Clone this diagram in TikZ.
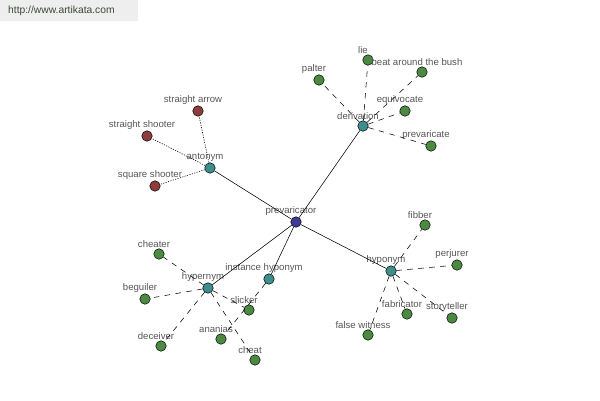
\documentclass[tikz,border=0pt]{standalone}
\usepackage{fontspec}
\setmainfont{Liberation Sans}
\definecolor{rootFill}{HTML}{3C3C96}
\definecolor{relFill}{HTML}{3E8E8C}
\definecolor{leafFill}{HTML}{4C8A42}
\definecolor{antoFill}{HTML}{8C3C3C}
\definecolor{labelGray}{HTML}{555555}
\definecolor{markGray}{HTML}{EEEEEE}
\definecolor{markText}{HTML}{3A4A36}

\begin{document}
\begin{tikzpicture}
[x=1pt,y=-1pt,
  nodeDecorate/.style={shape=circle,inner sep=0pt,minimum size=10.5pt,draw=black,line width=0.5pt},
  rootnode/.style={nodeDecorate,fill=rootFill},
  relnode/.style={nodeDecorate,fill=relFill},
  leafnode/.style={nodeDecorate,fill=leafFill},
  antonode/.style={nodeDecorate,fill=antoFill},
  labelDecorate/.style={text=labelGray,font=\fontsize{9.6}{10}\selectfont,inner sep=0.5pt,xshift=-5pt,label distance=0pt},
  mainLine/.style={-,line width=0.55pt},
  relLine/.style={-,line width=0.55pt,dash pattern=on 5.5pt off 5.5pt},
  antoLine/.style={-,line width=0.55pt,dash pattern=on 1.2pt off 1.3pt}]
\useasboundingbox (0,0) rectangle (600,400);
%% watermark
\fill[markGray] (0,0) rectangle (138,21);
\node (mark) at (8,11) [anchor=west,inner sep=0pt,text=markText,font=\fontsize{10.3}{11}\selectfont] {http://www.artikata.com};
%% nodes or vertices
\foreach \nodename/\kind/\x/\y/\txt in {
  prevaricator/rootnode/296/222/prevaricator,
  antonym/relnode/210/168/antonym,
  derivation/relnode/363/126/derivation,
  hypernym/relnode/208/288/hypernym,
  insthypo/relnode/269/279/instance hyponym,
  hyponym/relnode/391/271/hyponym,
  strarrow/antonode/198/111/straight arrow,
  strshooter/antonode/147/136/straight shooter,
  sqshooter/antonode/155/186/square shooter,
  lie/leafnode/368/60/lie,
  beatbush/leafnode/422/72/beat around the bush,
  palter/leafnode/319/80/palter,
  equivocate/leafnode/405/111/equivocate,
  prevaricate/leafnode/431/146/prevaricate,
  cheater/leafnode/159/254/cheater,
  beguiler/leafnode/145/299/beguiler,
  deceiver/leafnode/161/346/deceiver,
  ananias/leafnode/221/339/ananias,
  slicker/leafnode/249/310/slicker,
  cheat/leafnode/255/360/cheat,
  fibber/leafnode/425/225/fibber,
  perjurer/leafnode/457/265/perjurer,
  fabricator/leafnode/407/314/fabricator,
  storyteller/leafnode/452/318/storyteller,
  falsewit/leafnode/368/335/false witness}
{
  \node (\nodename) at (\x,\y) [\kind,label={[labelDecorate]above:\txt}] {};
}
%% edges or lines
\path
\foreach \startnode/\endnode in {
  prevaricator/antonym, prevaricator/derivation, prevaricator/hypernym,
  prevaricator/insthypo, prevaricator/hyponym}
{
  (\startnode) edge[mainLine] (\endnode)
};
\path
\foreach \startnode/\endnode in {
  antonym/strarrow, antonym/strshooter, antonym/sqshooter}
{
  (\startnode) edge[antoLine] (\endnode)
};
\path
\foreach \startnode/\endnode in {
  derivation/lie, derivation/beatbush, derivation/palter, derivation/equivocate,
  derivation/prevaricate, hypernym/cheater, hypernym/beguiler, hypernym/deceiver,
  hypernym/slicker, hypernym/cheat, insthypo/ananias, hyponym/fibber,
  hyponym/perjurer, hyponym/fabricator, hyponym/storyteller, hyponym/falsewit}
{
  (\startnode) edge[relLine] (\endnode)
};
\end{tikzpicture}
\end{document}
